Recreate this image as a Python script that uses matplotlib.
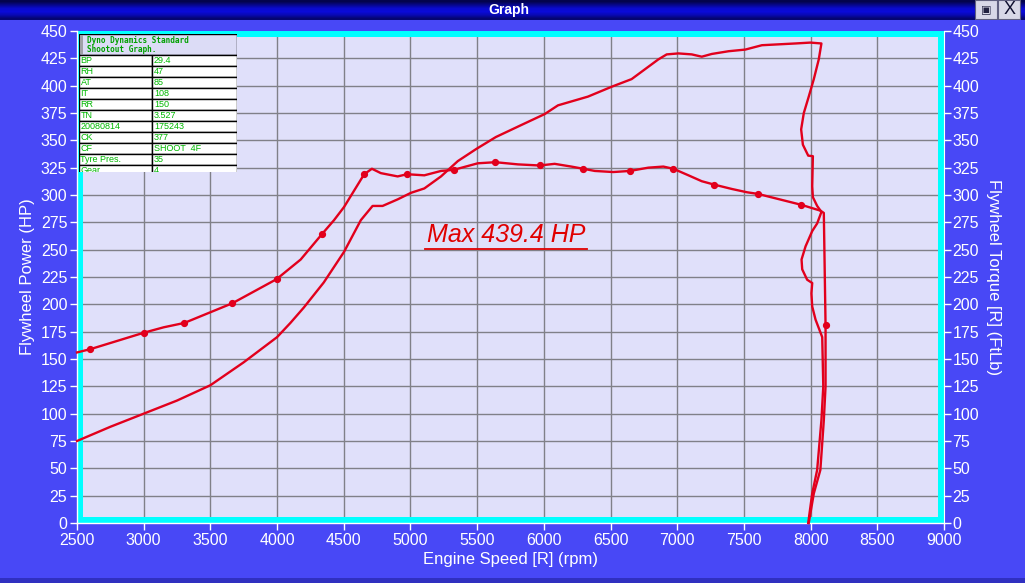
import matplotlib
matplotlib.use("Agg")
import matplotlib.pyplot as plt
from matplotlib.patches import Rectangle
from matplotlib.lines import Line2D
import numpy as np

plt.rcParams['font.family'] = ['Liberation Sans', 'DejaVu Sans']

# ---------------- data ----------------
power_rpm = [2500, 2750, 3000, 3250, 3500, 3750, 4000, 4100, 4200, 4350, 4502, 4628, 4716, 4791,
             4904, 5004, 5104, 5229, 5355, 5492, 5640, 5831, 6006, 6106, 6331, 6508, 6658, 6758,
             6858, 6921, 7009, 7109, 7184, 7259, 7385, 7510, 7635, 7886, 7998, 8081, 8061, 8024,
             7986, 7949, 7929, 7942, 7982, 8017, 8012, 8017, 8049, 8081, 8049, 8012, 7962, 7932,
             7937, 7974, 8012, 8006, 8012, 8037, 8087, 8095, 8081, 8049, 8012, 7982]
power_hp = [75, 88, 100, 112, 126, 147, 170, 183, 197, 220, 248, 277, 290, 290,
            296, 302, 306, 317, 331, 342, 353, 364, 374, 382, 390, 399, 406, 415,
            424, 428.6, 429.5, 428.6, 426.5, 429, 431.5, 433, 437, 438.6, 439.4, 438.6, 424, 406,
            390, 375, 360, 346, 336, 335.5, 308, 298, 290, 284.5, 274, 267, 253, 241,
            232, 222.5, 219.5, 210, 198, 186, 170, 125, 94, 48.5, 27, 0]

torque_rpm = [2500, 2600, 3000, 3150, 3305, 3665, 3996, 4177, 4335, 4427, 4502, 4653, 4711, 4778,
              4904, 4974, 5104, 5229, 5324, 5505, 5637, 5806, 5968, 6081, 6206, 6295, 6382, 6520,
              6645, 6783, 6896, 6971, 7084, 7184, 7277, 7410, 7523, 7605, 7931, 8073, 8099, 8112,
              8112, 8099, 8073, 8024, 7986]
torque_ftlb = [156, 159, 174, 179, 183, 201, 223, 241, 264, 277, 289, 319, 324, 320,
               317, 319, 318, 322, 323, 329, 330, 328, 327, 328.5, 326, 324, 322, 321,
               322, 325, 326, 324, 318, 312.6, 309.5, 305.5, 302.5, 301, 291, 285.7, 283.6, 181,
               125, 94, 48.5, 27, 0]
torque_dot_rpm = [2600, 3000, 3305, 3665, 3996, 4335, 4653, 4974, 5324, 5637, 5968, 6295, 6645,
                  6971, 7277, 7605, 7931, 8112]

x_ticks = list(range(2500, 9001, 500))
y_ticks = list(range(0, 451, 25))

max_label = "Max 439.4 HP"

info_keys = ["BP", "RH", "AT", "IT", "RR", "TN", "20080814", "CK", "CF", "Tyre Pres.", "Gear"]
info_vals = ["29.4", "47", "85", "108", "150", "3.527", "175243", "377", "SHOOT  4F", "35", "4"]
info_title = "Dyno Dynamics Standard\nShootout Graph."

# ---------------- figure ----------------
W, H = 1025, 583
fig = plt.figure(figsize=(W / 100, H / 100), dpi=100)
fig.patch.set_facecolor('#4848f6')

def fx(px):
    return px / W

def fy(py):
    return 1 - py / H

# title bar gradient
tb = fig.add_axes([0, fy(20), 1, 20 / H])
grad = np.array([[0.30], [0.55], [0.80], [0.85], [0.70], [0.45]])
cols = np.zeros((grad.shape[0], 1, 3))
cols[:, 0, 2] = grad[:, 0]
cols[:, 0, 0] = grad[:, 0] * 0.05
cols[:, 0, 1] = grad[:, 0] * 0.05
tb.imshow(cols, aspect='auto', extent=[0, 1, 0, 1], interpolation='bilinear')
tb.set_axis_off()
tb.text(0.496, 0.5, "Graph", color='white', fontsize=10, fontweight='bold',
        ha='center', va='center', transform=tb.transAxes)
# window buttons
for x0 in [975, 998]:
    tb.add_patch(Rectangle((fx(x0), 0.05), fx(22), 0.95, transform=tb.transAxes,
                           facecolor='#d8d8e8', edgecolor='#606080', lw=0.8))
tb.text(fx(986), 0.5, "\u25a3", color='#202040', fontsize=8, ha='center', va='center',
        transform=tb.transAxes, family=['DejaVu Sans'])
tb.text(fx(1010), 0.5, "X", color='#101030', fontsize=13, ha='center', va='center',
        transform=tb.transAxes)

# bottom darker strip
fig.patches.append(Rectangle((0, 0), 1, 5 / H, transform=fig.transFigure,
                             facecolor='#3030c0', edgecolor='none', zorder=0))

# ---------------- main axes ----------------
ax_l, ax_r, ax_t, ax_b = 77, 944, 31, 523
ax = fig.add_axes([fx(ax_l), fy(ax_b), fx(ax_r - ax_l), (ax_b - ax_t) / H])
ax.set_facecolor('#e0e0fa')
ax.set_xlim(2500, 9000)
ax.set_ylim(0, 450)
ax.set_xticks(x_ticks)
ax.set_yticks(y_ticks)
ax.set_axisbelow(True)
ax.grid(True, color='#808088', lw=1.0)
for s in ['top', 'right']:
    ax.spines[s].set_visible(False)
for s in ['left', 'bottom']:
    ax.spines[s].set_color('white')
    ax.spines[s].set_linewidth(1)
ax.tick_params(colors='white', labelsize=11.5, length=5, width=1, pad=2)
ax.set_xlabel("Engine Speed [R] (rpm)", color='white', fontsize=12, labelpad=3)
ax.set_ylabel("Flywheel Power (HP)", color='white', fontsize=12, labelpad=4)

# cyan frame
axw, axh = ax_r - ax_l, ax_b - ax_t
th = 6
ax.add_patch(Rectangle((th / 2 / axw, th / 2 / axh), 1 - th / axw, 1 - th / axh,
                       transform=ax.transAxes, fill=False, edgecolor='#00ffff',
                       lw=th * 0.72, zorder=1.5))

red = '#e2001c'
ax.plot(power_rpm, power_hp, color=red, lw=1.7, zorder=3, clip_on=False)
dot_idx = [torque_rpm.index(r) for r in torque_dot_rpm]
ax.plot(torque_rpm, torque_ftlb, color=red, lw=1.7, zorder=3, marker='o', ms=4.2,
        markevery=dot_idx, clip_on=False)

# max annotation
txt = ax.text(5715, 263, max_label, color='#e00000', fontsize=18, style='italic',
              ha='center', va='center', zorder=4)

ax2 = ax.twinx()
ax2.set_ylim(0, 450)
ax2.set_yticks(y_ticks)
for s in ['top', 'left', 'bottom']:
    ax2.spines[s].set_visible(False)
ax2.spines['right'].set_color('white')
ax2.tick_params(colors='white', labelsize=11.5, length=5, width=1, pad=1)
ax2.set_ylabel("Flywheel Torque [R] (FtLb)", color='white', fontsize=12, rotation=270,
               labelpad=16)

# ---------------- info table ----------------
tl, tr, ttop, tbot = 79, 237, 34, 172
tab = fig.add_axes([fx(tl), fy(tbot), fx(tr - tl), (tbot - ttop) / H])
tab.set_zorder(10)
tab.set_xlim(tl, tr)
tab.set_ylim(tbot, ttop)
tab.set_axis_off()
green = '#00b800'
hdr_bot = 54.7
row_h = 11.0
tab.add_patch(Rectangle((tl, ttop), tr - tl, hdr_bot - ttop, facecolor='#dcdcf6',
                        edgecolor='black', lw=1))
tab.add_patch(Rectangle((tl + 0.5, ttop + 0.5), 3.5, hdr_bot - ttop - 1, facecolor='#a0a0a8',
                        edgecolor='none'))
tab.text(87, 36, info_title, color='#00a000', fontsize=5.6, fontweight='bold',
         family=['DejaVu Sans Mono'], va='top', ha='left', linespacing=1.0)
col_x = 152
for i, (k, v) in enumerate(zip(info_keys, info_vals)):
    y0 = hdr_bot + i * row_h
    tab.add_patch(Rectangle((tl, y0), col_x - tl, row_h, facecolor='white',
                            edgecolor='black', lw=1, clip_on=True))
    tab.add_patch(Rectangle((col_x, y0), tr - col_x, row_h, facecolor='white',
                            edgecolor='black', lw=1, clip_on=True))
    tab.text(tl + 1.5, y0 + row_h / 2 + 0.5, k, color=green, fontsize=6.5, va='center',
             ha='left', clip_on=True)
    tab.text(col_x + 2, y0 + row_h / 2 + 0.5, v, color=green, fontsize=6.5, va='center',
             ha='left', clip_on=True)

# underline under max label
fig.canvas.draw()
bb = txt.get_window_extent()
inv = fig.transFigure.inverted()
(x0f, y0f) = inv.transform((bb.x0 - 2, bb.y0 - 2))
(x1f, _) = inv.transform((bb.x1 + 2, bb.y0 - 2))
fig.lines.append(Line2D([x0f, x1f], [y0f, y0f], transform=fig.transFigure,
                        color='#e00000', lw=1.3, zorder=5))

fig.savefig("out.png", dpi=100, facecolor=fig.get_facecolor())
